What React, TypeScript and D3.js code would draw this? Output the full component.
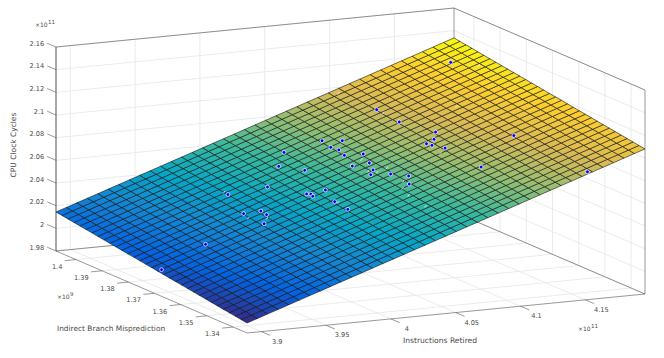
// Fitted plane over CPU counters, drawn as a MATLAB style surf + scatter3 view
import React from 'react'
import * as d3 from 'd3'

// axis limits, in the units of the tick labels (x 1e11, y 1e9, z 1e11)
const xLimits = [3.889, 4.196]
const yLimits = [1.3347, 1.4076]
const zLimits = [1.98, 2.16]

const xTicks = [3.9, 3.95, 4, 4.05, 4.1, 4.15]
const yTicks = [1.34, 1.35, 1.36, 1.37, 1.38, 1.39, 1.4]
const zTicks = [1.98, 2, 2.02, 2.04, 2.06, 2.08, 2.1, 2.12, 2.14, 2.16]

// the surface is a flat plane: height at its four corners
const planeFront = [1.9888, 2.108] // y min: x min, x max
const planeBack = [2.0144, 2.1336] // y max: x min, x max
const cellsX = 38
const cellsY = 32

// parula
const colorStops = ['#352a87', '#0363e1', '#1485d4', '#06a7c6', '#38b99e', '#92bf73', '#d9ba56', '#fcce2e', '#f9fb0e']

// markers in front of the surface: instructions, mispredictions, cycles
const pointsX = [4.1077, 4.1083, 4.1167, 4.1105, 4.1038, 4.105, 4.1087, 4.0601, 4.069, 4.0589, 4.0605, 4.0589, 4.0346, 4.0216, 4.0301, 4.0682, 4.064, 4.0543, 4.0604, 4.0558, 4.0651, 4.0715, 4.0657, 4.001, 3.978, 4.0242, 4.013, 4.0148, 4.0139, 4.0195, 4.0195, 3.9799, 3.9797, 3.9703, 3.9717, 4.1761, 4.1484, 4.1102, 4.1534, 3.9304, 3.8918]
const pointsY = [1.3934, 1.3851, 1.3754, 1.3729, 1.3725, 1.371, 1.3678, 1.3907, 1.3874, 1.3868, 1.3845, 1.3816, 1.3926, 1.3882, 1.3825, 1.379, 1.3746, 1.3763, 1.3714, 1.37, 1.367, 1.3633, 1.3602, 1.3823, 1.386, 1.3717, 1.3733, 1.3726, 1.3714, 1.3658, 1.3608, 1.3744, 1.3721, 1.3762, 1.3691, 1.399, 1.3612, 1.3548, 1.3356, 1.371, 1.3687]
const pointsZ = [2.0943, 2.0916, 2.0914, 2.0882, 2.0854, 2.0854, 2.0857, 2.0749, 2.0772, 2.0731, 2.0729, 2.0712, 2.0656, 2.0591, 2.0603, 2.0739, 2.0708, 2.0675, 2.0682, 2.0659, 2.0685, 2.0697, 2.0663, 2.049, 2.0413, 2.0543, 2.0505, 2.0509, 2.0502, 2.0504, 2.0486, 2.038, 2.0371, 2.035, 2.033, 2.1228, 2.0988, 2.0817, 2.0917, 2.0176, 2.0018]

// markers mostly behind the surface, only a bit of their white edge shows
const hiddenX = [3.9783, 3.9692, 3.9775, 4.0142, 4.0211, 4.0608, 4.0683, 4.0576, 4.0635, 4.0654, 4.0599, 4.0573, 4.0563, 4.1036, 4.1092, 4.1083, 4.1036, 4.1866, 4.1455]
const hiddenY = [1.3882, 1.3745, 1.3714, 1.3741, 1.3658, 1.3706, 1.3706, 1.3724, 1.3779, 1.3629, 1.3604, 1.3568, 1.3499, 1.3675, 1.3865, 1.3918, 1.4065, 1.394, 1.3822]
const hiddenZ = [2.0422, 2.0339, 2.036, 2.0512, 2.051, 2.0681, 2.071, 2.0675, 2.0717, 2.0672, 2.0642, 2.0619, 2.0591, 2.0836, 2.0924, 2.094, 2.0973, 2.1251, 2.105]

const TEXT = '#4a4a4a'
const FONT = '"DejaVu Sans", sans-serif'

// orthographic view: one scale per axis, each gives pixels along its own direction
const ux = d3.scaleLinear().domain(xLimits).range([0, 1])
const uy = d3.scaleLinear().domain(yLimits).range([0, 1])
const uz = d3.scaleLinear().domain(zLimits).range([0, 204])

const project = (x: number, y: number, z: number): [number, number] => [
  247 + 398 * ux(x) - 191 * uy(y),
  333 - 39 * ux(x) - 82 * uy(y) - uz(z),
]

const seg = (a: [number, number], b: [number, number]) => ({ x1: a[0], y1: a[1], x2: b[0], y2: b[1] })

const parula = d3
  .scaleLinear<string>()
  .domain(colorStops.map((_, i) => i / (colorStops.length - 1)))
  .range(colorStops)
  .interpolate(d3.interpolateRgb)

const planeAt = (i: number, j: number) => {
  const front = d3.interpolateNumber(planeFront[0], planeFront[1])(i / cellsX)
  const back = d3.interpolateNumber(planeBack[0], planeBack[1])(i / cellsX)
  return d3.interpolateNumber(front, back)(j / cellsY)
}
const meshX = d3.scaleLinear().domain([0, cellsX]).range(xLimits)
const meshY = d3.scaleLinear().domain([0, cellsY]).range(yLimits)
const colorScale = d3.scaleLinear().domain([planeFront[0], planeBack[1]]).range([0, 1])

function Surface() {
  const cells = []
  for (const i of d3.range(cellsX)) {
    for (const j of d3.range(cellsY)) {
      const corners = [[i, j], [i + 1, j], [i + 1, j + 1], [i, j + 1]].map(([a, b]) =>
        project(meshX(a), meshY(b), planeAt(a, b))
      )
      cells.push(
        <path
          key={i + '-' + j}
          d={d3.line()(corners) + 'Z'}
          fill={parula(colorScale(planeAt(i + 0.5, j + 0.5)))}
          stroke="#111"
          strokeWidth={0.7}
          strokeOpacity={0.85}
        />
      )
    }
  }
  return <g>{cells}</g>
}

function Label({ x, y, anchor = 'middle', size = 6.6, children }: any) {
  return (
    <text x={x} y={y} textAnchor={anchor} fontFamily={FONT} fontSize={size} fill={TEXT}>
      {children}
    </text>
  )
}

function Exponent({ x, y, power }: any) {
  return (
    <g>
      <Label x={x} y={y} anchor="start" size={6}>×10</Label>
      <Label x={x + 13} y={y - 3} anchor="start" size={5.5}>{power}</Label>
    </g>
  )
}

export default function App() {
  const [x0, x1] = xLimits
  const [y0, y1] = yLimits
  const [z0, z1] = zLimits

  const gridLines = [
    ...xTicks.map((x) => seg(project(x, y1, z0), project(x, y1, z1))),
    ...yTicks.map((y) => seg(project(x1, y, z0), project(x1, y, z1))),
    ...zTicks.flatMap((z) => [
      seg(project(x0, y1, z), project(x1, y1, z)),
      seg(project(x1, y1, z), project(x1, y0, z)),
    ]),
    ...xTicks.map((x) => seg(project(x, y0, z0), project(x, y1, z0))),
    ...yTicks.map((y) => seg(project(x0, y, z0), project(x1, y, z0))),
  ]

  const boxLines = [
    seg(project(x0, y1, z1), project(x1, y1, z1)),
    seg(project(x1, y1, z1), project(x1, y0, z1)),
    seg(project(x1, y1, z0), project(x1, y1, z1)),
    seg(project(x1, y0, z0), project(x1, y0, z1)),
    seg(project(x0, y1, z0), project(x1, y1, z0)),
    seg(project(x1, y1, z0), project(x1, y0, z0)),
    seg(project(x0, y0, z0), project(x1, y0, z0)),
    seg(project(x0, y0, z0), project(x0, y1, z0)),
  ]

  const xTickSize = (y1 - y0) * 0.046
  const yTickSize = (x1 - x0) * 0.028

  return (
    <svg width={664} height={358} style={{ position: 'absolute', left: 0, top: 0 }}>
      <g stroke="#e6e6e6" strokeWidth={0.8}>
        {gridLines.map((l, i) => <line key={i} {...l} />)}
      </g>
      <g stroke="#262626" strokeWidth={0.6} strokeOpacity={0.8}>
        {boxLines.map((l, i) => <line key={i} {...l} />)}
        <line {...seg(project(x0, y1, z0), project(x0, y1, z1))} strokeWidth={1} />
      </g>

      {/* z axis */}
      {zTicks.map((z) => {
        const a = project(x0, y1, z)
        const b = project(x0, y1 + xTickSize, z)
        return (
          <g key={z}>
            <line {...seg(a, b)} stroke="#555" strokeWidth={0.6} />
            <Label x={b[0] - 3} y={b[1] + 2.3} anchor="end">{String(z)}</Label>
          </g>
        )
      })}
      {/* x axis */}
      {xTicks.map((x) => {
        const a = project(x, y0, z0)
        const b = project(x, y0 - xTickSize, z0)
        return (
          <g key={x}>
            <line {...seg(a, b)} stroke="#555" strokeWidth={0.6} />
            <Label x={a[0] + 16} y={a[1] + 12}>{String(x)}</Label>
          </g>
        )
      })}
      {/* y axis */}
      {yTicks.map((y) => {
        const a = project(x0, y, z0)
        const b = project(x0 - yTickSize, y, z0)
        return (
          <g key={y}>
            <line {...seg(a, b)} stroke="#555" strokeWidth={0.6} />
            <Label x={a[0] - 13.5} y={a[1] + 9} anchor="end">{String(y)}</Label>
          </g>
        )
      })}

      <Surface />

      {hiddenX.map((x, i) => {
        const [cx, cy] = project(x, hiddenY[i], hiddenZ[i])
        return (
          <circle key={i} cx={cx} cy={cy} r={2.2} fill="none" stroke="#fff" strokeOpacity={0.8}
            strokeWidth={0.8} strokeDasharray="3 11" />
        )
      })}
      {pointsX.map((x, i) => {
        const [cx, cy] = project(x, pointsY[i], pointsZ[i])
        return <circle key={i} cx={cx} cy={cy} r={1.9} fill="#0000ff" stroke="#fff" strokeOpacity={0.8} strokeWidth={0.9} />
      })}

      <Exponent x={35} y={27} power="11" />
      <Exponent x={57} y={299} power="9" />
      <Exponent x={578} y={331} power="11" />

      <Label x={57} y={331} anchor="start" size={7.4}>Indirect Branch Misprediction</Label>
      <Label x={440} y={343} size={7.6}>Instructions Retired</Label>
      <text transform="translate(16,145) rotate(-90)" textAnchor="middle" fontFamily={FONT} fontSize={7.5} fill={TEXT}>
        CPU Clock Cycles
      </text>
    </svg>
  )
}
